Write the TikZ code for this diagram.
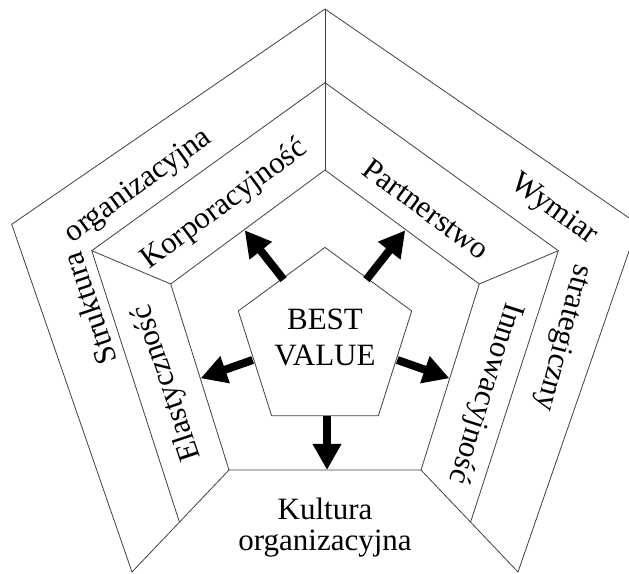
\documentclass[tikz,border=0pt]{standalone}
\usepackage{fontspec}
\setmainfont{Liberation Serif}
\usetikzlibrary{arrows.meta}
\begin{document}
\begin{tikzpicture}[x=1pt,y=1pt,
  frame/.style={draw=black!75, line width=0.8pt},
  bigarrow/.style={line width=8pt, -{Triangle[length=26pt,width=27pt]}},
  lbl/.style={font=\fontsize{31}{36}\selectfont, inner sep=0pt}]
\useasboundingbox (0,0) rectangle (629,573);
\clip (0,0) rectangle (629,573);
% outer pentagon
\coordinate (oT) at (325,564);
\coordinate (oL) at (11.7,348.7);
\coordinate (oR) at (638.3,348.7);
\coordinate (oBL) at (132,1);
\coordinate (oBR) at (518,1);
% middle pentagon
\coordinate (mT) at (325,490.3);
\coordinate (mL) at (91.7,322.3);
\coordinate (mR) at (558.3,322.3);
\coordinate (mLd) at (180.8,46.6);
\coordinate (mRd) at (469.2,46.6);
% inner pentagon
\coordinate (iT) at (325,403);
\coordinate (iL) at (170.7,289);
\coordinate (iR) at (479.3,289);
\coordinate (iBL) at (229,103);
\coordinate (iBR) at (421,103);
\coordinate (mBL) at (intersection of mL--mLd and iBL--oBL);
\coordinate (mBR) at (intersection of mR--mRd and iBR--oBR);
% centre pentagon
\coordinate (cT) at (325,325.6);
\coordinate (cL) at (238.3,262);
\coordinate (cR) at (411.7,262);
\coordinate (cBL) at (271.6,157.3);
\coordinate (cBR) at (378.4,157.3);

\draw[frame] (oBL) -- (oL) -- (oT) -- (oR) -- (oBR);
\draw[frame] (oBL) -- (iBL);
\draw[frame] (oBR) -- (iBR);
\draw[frame] (mBL) -- (mL) -- (mT) -- (mR) -- (mBR);
\draw[frame] (iT) -- (iR) -- (iBR) -- (iBL) -- (iL) -- cycle;
\draw[frame] (oT) -- (iT);
\draw[frame] (mL) -- (iL);
\draw[frame] (mR) -- (iR);
\draw[frame] (cT) -- (cR) -- (cBR) -- (cBL) -- (cL) -- cycle;

% arrows
\coordinate (a1s) at (283.6,293.4); \coordinate (a1e) at (244.7,342.7);
\coordinate (a2s) at (366.4,293.4); \coordinate (a2e) at (405.3,342.7);
\coordinate (a3s) at (252.7,213);   \coordinate (a3e) at (200.6,194.7);
\coordinate (a4s) at (397.3,213);   \coordinate (a4e) at (449.4,194.7);
\coordinate (a5s) at (327,157.3);   \coordinate (a5e) at (327,103);
\draw[bigarrow] (a1s) -- (a1e);
\draw[bigarrow] (a2s) -- (a2e);
\draw[bigarrow] (a3s) -- (a3e);
\draw[bigarrow] (a4s) -- (a4e);
\draw[bigarrow] (a5s) -- (a5e);

% labels
\node[lbl, rotate=36] (orgA) at (138.5,386.5) {organizacyjna};
\node[lbl, rotate=108.5] (strA) at (89.5,264) {Struktura};
\node[lbl, rotate=36.5] (korp) at (224.5,368.3) {Korporacyjność};
\node[lbl, rotate=-36.4] (part) at (426.5,364) {Partnerstwo};
\node[lbl, rotate=-36] (wym) at (553.5,363) {Wymiar};
\node[lbl, rotate=-105] (strat) at (562.6,235) {strategiczny};
\node[lbl, rotate=-107.6] (inno) at (485,180) {Innowacyjność};
\node[lbl, rotate=108.5] (elas) at (167.5,190) {Elastyczność};
\node[lbl, anchor=base] (best) at (325,243) {BEST};
\node[lbl, anchor=base] (value) at (325,207.3) {VALUE};
\node[lbl, anchor=base] (kult) at (325,53) {Kultura};
\node[lbl, anchor=base] (orgB) at (325,23) {organizacyjna};
\end{tikzpicture}
\end{document}
